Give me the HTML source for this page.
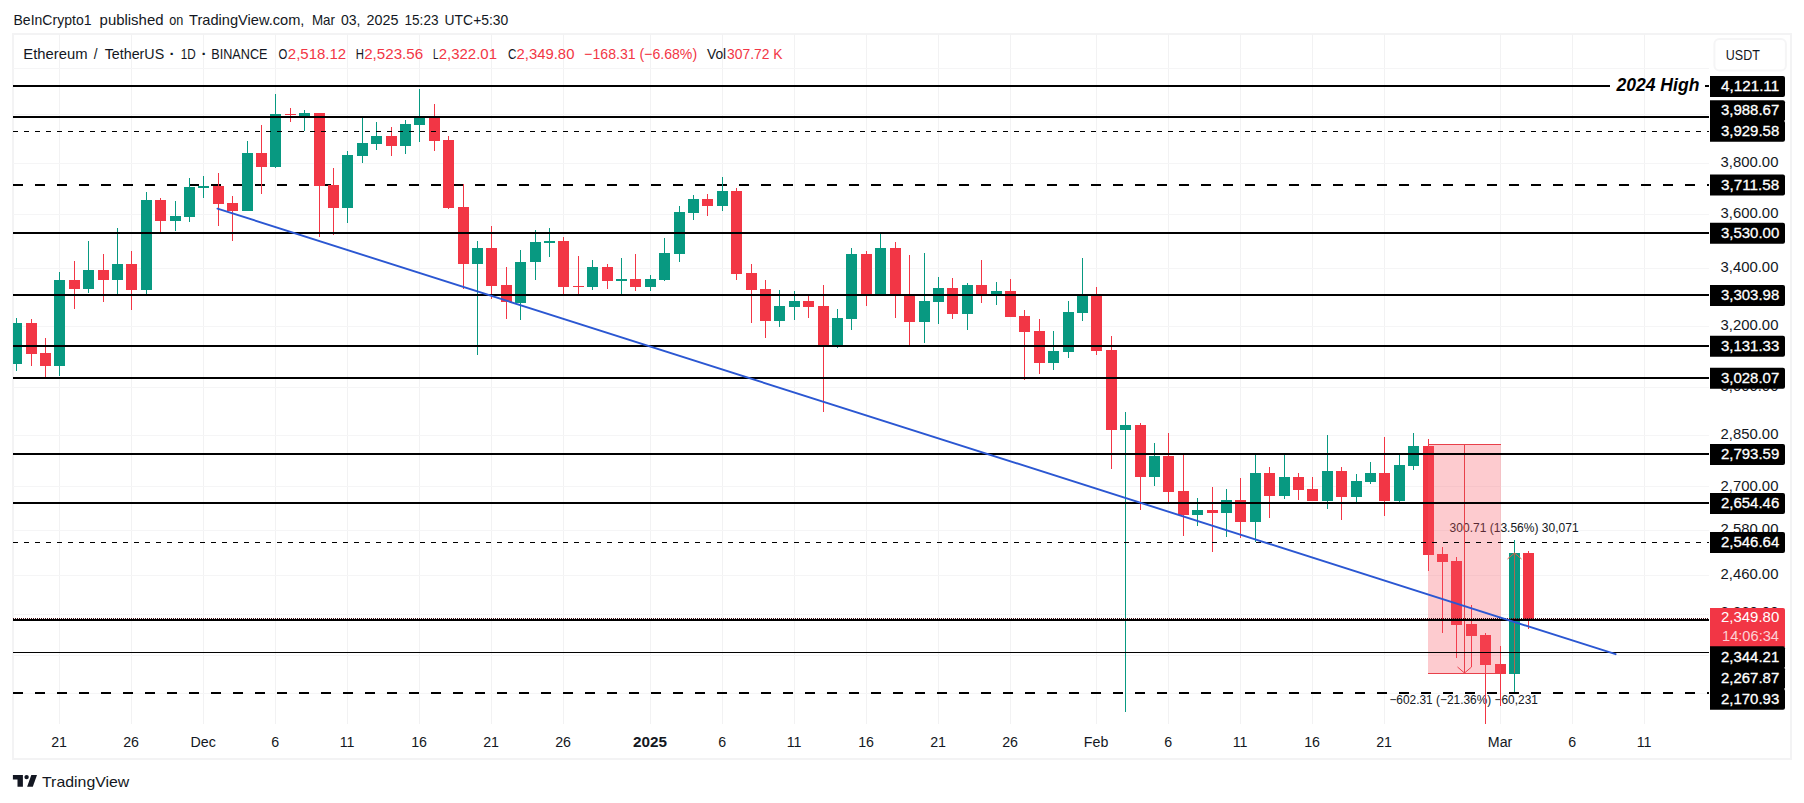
<!DOCTYPE html>
<html lang="en"><head><meta charset="utf-8"><title>ETHUSDT chart - TradingView</title>
<style>html,body{margin:0;padding:0;background:#fff;}body{width:1804px;height:803px;overflow:hidden;font-family:"Liberation Sans", "DejaVu Sans", sans-serif;}svg{display:block}text{font-family:"Liberation Sans", "DejaVu Sans", sans-serif;}</style>
</head><body>
<svg width="1804" height="803" viewBox="0 0 1804 803">
<rect x="0" y="0" width="1804" height="803" fill="#ffffff"/>
<rect x="13" y="34" width="1778" height="725" fill="none" stroke="#f3f3f4" stroke-width="2" shape-rendering="crispEdges"/>
<g shape-rendering="crispEdges" fill="#f2f2f3">
<rect x="59" y="34" width="1" height="690"/>
<rect x="131" y="34" width="1" height="690"/>
<rect x="203" y="34" width="1" height="690"/>
<rect x="275" y="34" width="1" height="690"/>
<rect x="347" y="34" width="1" height="690"/>
<rect x="419" y="34" width="1" height="690"/>
<rect x="491" y="34" width="1" height="690"/>
<rect x="563" y="34" width="1" height="690"/>
<rect x="650" y="34" width="1" height="690"/>
<rect x="722" y="34" width="1" height="690"/>
<rect x="794" y="34" width="1" height="690"/>
<rect x="866" y="34" width="1" height="690"/>
<rect x="938" y="34" width="1" height="690"/>
<rect x="1010" y="34" width="1" height="690"/>
<rect x="1096" y="34" width="1" height="690"/>
<rect x="1168" y="34" width="1" height="690"/>
<rect x="1240" y="34" width="1" height="690"/>
<rect x="1312" y="34" width="1" height="690"/>
<rect x="1384" y="34" width="1" height="690"/>
<rect x="1500" y="34" width="1" height="690"/>
<rect x="1572" y="34" width="1" height="690"/>
<rect x="1644" y="34" width="1" height="690"/>
<rect x="13" y="68" width="1696" height="1" fill="#f5f5f6"/>
<rect x="13" y="114" width="1696" height="1" fill="#f5f5f6"/>
<rect x="13" y="163" width="1696" height="1" fill="#f5f5f6"/>
<rect x="13" y="214" width="1696" height="1" fill="#f5f5f6"/>
<rect x="13" y="268" width="1696" height="1" fill="#f5f5f6"/>
<rect x="13" y="326" width="1696" height="1" fill="#f5f5f6"/>
<rect x="13" y="387" width="1696" height="1" fill="#f5f5f6"/>
<rect x="13" y="435" width="1696" height="1" fill="#f5f5f6"/>
<rect x="13" y="486" width="1696" height="1" fill="#f5f5f6"/>
<rect x="13" y="530" width="1696" height="1" fill="#f5f5f6"/>
<rect x="13" y="575" width="1696" height="1" fill="#f5f5f6"/>
<rect x="13" y="614" width="1696" height="1" fill="#f5f5f6"/>
<rect x="13" y="655" width="1696" height="1" fill="#f5f5f6"/>
<rect x="13" y="693" width="1696" height="1" fill="#f5f5f6"/>
</g>
<line x1="13" y1="185" x2="1709" y2="185" stroke="#000" stroke-width="2" stroke-dasharray="10 12" shape-rendering="crispEdges"/>
<text x="1449.6" y="532" font-size="12.4" fill="#131722" textLength="129" lengthAdjust="spacingAndGlyphs">300.71 (13.56%) 30,071</text>
<text x="1389.4" y="704" font-size="12.4" fill="#131722" textLength="148.5" lengthAdjust="spacingAndGlyphs">−602.31 (−21.36%) −60,231</text>
<g shape-rendering="crispEdges">
<rect x="16" y="318" width="1" height="53" fill="#089981"/>
<rect x="13" y="323" width="9" height="41" fill="#089981"/>
<rect x="31" y="319" width="1" height="47" fill="#F23645"/>
<rect x="26" y="323" width="11" height="31" fill="#F23645"/>
<rect x="45" y="338" width="1" height="39" fill="#F23645"/>
<rect x="40" y="353" width="11" height="13" fill="#F23645"/>
<rect x="59" y="272" width="1" height="104" fill="#089981"/>
<rect x="54" y="280" width="11" height="86" fill="#089981"/>
<rect x="74" y="261" width="1" height="48" fill="#F23645"/>
<rect x="69" y="280" width="11" height="9" fill="#F23645"/>
<rect x="88" y="241" width="1" height="52" fill="#089981"/>
<rect x="83" y="270" width="11" height="19" fill="#089981"/>
<rect x="103" y="254" width="1" height="48" fill="#F23645"/>
<rect x="98" y="270" width="11" height="10" fill="#F23645"/>
<rect x="117" y="228" width="1" height="66" fill="#089981"/>
<rect x="112" y="264" width="11" height="16" fill="#089981"/>
<rect x="131" y="251" width="1" height="59" fill="#F23645"/>
<rect x="126" y="264" width="11" height="26" fill="#F23645"/>
<rect x="146" y="192" width="1" height="102" fill="#089981"/>
<rect x="141" y="200" width="11" height="90" fill="#089981"/>
<rect x="160" y="198" width="1" height="34" fill="#F23645"/>
<rect x="155" y="200" width="11" height="21" fill="#F23645"/>
<rect x="175" y="201" width="1" height="30" fill="#089981"/>
<rect x="170" y="216" width="11" height="5" fill="#089981"/>
<rect x="189" y="178" width="1" height="44" fill="#089981"/>
<rect x="184" y="187" width="11" height="30" fill="#089981"/>
<rect x="203" y="176" width="1" height="22" fill="#089981"/>
<rect x="198" y="186" width="11" height="2" fill="#089981"/>
<rect x="218" y="173" width="1" height="53" fill="#F23645"/>
<rect x="213" y="186" width="11" height="18" fill="#F23645"/>
<rect x="232" y="196" width="1" height="45" fill="#F23645"/>
<rect x="227" y="203" width="11" height="8" fill="#F23645"/>
<rect x="247" y="141" width="1" height="70" fill="#089981"/>
<rect x="242" y="153" width="11" height="58" fill="#089981"/>
<rect x="261" y="125" width="1" height="69" fill="#F23645"/>
<rect x="256" y="153" width="11" height="14" fill="#F23645"/>
<rect x="275" y="94" width="1" height="74" fill="#089981"/>
<rect x="270" y="114" width="11" height="53" fill="#089981"/>
<rect x="290" y="108" width="1" height="14" fill="#F23645"/>
<rect x="285" y="114" width="11" height="1" fill="#F23645"/>
<rect x="304" y="110" width="1" height="21" fill="#089981"/>
<rect x="299" y="113" width="11" height="3" fill="#089981"/>
<rect x="319" y="113" width="1" height="124" fill="#F23645"/>
<rect x="314" y="113" width="11" height="73" fill="#F23645"/>
<rect x="333" y="168" width="1" height="67" fill="#F23645"/>
<rect x="328" y="185" width="11" height="23" fill="#F23645"/>
<rect x="347" y="151" width="1" height="72" fill="#089981"/>
<rect x="342" y="155" width="11" height="53" fill="#089981"/>
<rect x="362" y="118" width="1" height="45" fill="#089981"/>
<rect x="357" y="143" width="11" height="13" fill="#089981"/>
<rect x="376" y="122" width="1" height="28" fill="#089981"/>
<rect x="371" y="136" width="11" height="8" fill="#089981"/>
<rect x="391" y="127" width="1" height="29" fill="#F23645"/>
<rect x="386" y="136" width="11" height="10" fill="#F23645"/>
<rect x="405" y="120" width="1" height="34" fill="#089981"/>
<rect x="400" y="124" width="11" height="22" fill="#089981"/>
<rect x="419" y="89" width="1" height="53" fill="#089981"/>
<rect x="414" y="117" width="11" height="8" fill="#089981"/>
<rect x="434" y="104" width="1" height="47" fill="#F23645"/>
<rect x="429" y="117" width="11" height="24" fill="#F23645"/>
<rect x="448" y="136" width="1" height="73" fill="#F23645"/>
<rect x="443" y="140" width="11" height="68" fill="#F23645"/>
<rect x="463" y="184" width="1" height="105" fill="#F23645"/>
<rect x="458" y="207" width="11" height="57" fill="#F23645"/>
<rect x="477" y="241" width="1" height="114" fill="#089981"/>
<rect x="472" y="248" width="11" height="16" fill="#089981"/>
<rect x="491" y="226" width="1" height="73" fill="#F23645"/>
<rect x="486" y="248" width="11" height="38" fill="#F23645"/>
<rect x="506" y="267" width="1" height="52" fill="#F23645"/>
<rect x="501" y="285" width="11" height="17" fill="#F23645"/>
<rect x="520" y="250" width="1" height="70" fill="#089981"/>
<rect x="515" y="262" width="11" height="41" fill="#089981"/>
<rect x="535" y="230" width="1" height="50" fill="#089981"/>
<rect x="530" y="242" width="11" height="20" fill="#089981"/>
<rect x="549" y="228" width="1" height="29" fill="#089981"/>
<rect x="544" y="241" width="11" height="2" fill="#089981"/>
<rect x="563" y="237" width="1" height="57" fill="#F23645"/>
<rect x="558" y="241" width="11" height="46" fill="#F23645"/>
<rect x="578" y="256" width="1" height="38" fill="#F23645"/>
<rect x="573" y="286" width="11" height="1" fill="#F23645"/>
<rect x="592" y="260" width="1" height="30" fill="#089981"/>
<rect x="587" y="267" width="11" height="20" fill="#089981"/>
<rect x="607" y="264" width="1" height="25" fill="#F23645"/>
<rect x="602" y="267" width="11" height="14" fill="#F23645"/>
<rect x="621" y="258" width="1" height="36" fill="#089981"/>
<rect x="616" y="279" width="11" height="2" fill="#089981"/>
<rect x="635" y="254" width="1" height="37" fill="#F23645"/>
<rect x="630" y="279" width="11" height="8" fill="#F23645"/>
<rect x="650" y="275" width="1" height="16" fill="#089981"/>
<rect x="645" y="279" width="11" height="8" fill="#089981"/>
<rect x="664" y="238" width="1" height="43" fill="#089981"/>
<rect x="659" y="253" width="11" height="27" fill="#089981"/>
<rect x="679" y="206" width="1" height="56" fill="#089981"/>
<rect x="674" y="212" width="11" height="42" fill="#089981"/>
<rect x="693" y="195" width="1" height="25" fill="#089981"/>
<rect x="688" y="199" width="11" height="14" fill="#089981"/>
<rect x="707" y="194" width="1" height="22" fill="#F23645"/>
<rect x="702" y="199" width="11" height="7" fill="#F23645"/>
<rect x="722" y="177" width="1" height="34" fill="#089981"/>
<rect x="717" y="191" width="11" height="15" fill="#089981"/>
<rect x="736" y="188" width="1" height="92" fill="#F23645"/>
<rect x="731" y="191" width="11" height="83" fill="#F23645"/>
<rect x="751" y="264" width="1" height="59" fill="#F23645"/>
<rect x="746" y="273" width="11" height="17" fill="#F23645"/>
<rect x="765" y="280" width="1" height="58" fill="#F23645"/>
<rect x="760" y="289" width="11" height="32" fill="#F23645"/>
<rect x="779" y="290" width="1" height="37" fill="#089981"/>
<rect x="774" y="306" width="11" height="15" fill="#089981"/>
<rect x="794" y="291" width="1" height="29" fill="#089981"/>
<rect x="789" y="301" width="11" height="6" fill="#089981"/>
<rect x="808" y="296" width="1" height="22" fill="#F23645"/>
<rect x="803" y="301" width="11" height="6" fill="#F23645"/>
<rect x="823" y="285" width="1" height="127" fill="#F23645"/>
<rect x="818" y="306" width="11" height="39" fill="#F23645"/>
<rect x="837" y="309" width="1" height="39" fill="#089981"/>
<rect x="832" y="318" width="11" height="28" fill="#089981"/>
<rect x="851" y="248" width="1" height="82" fill="#089981"/>
<rect x="846" y="254" width="11" height="65" fill="#089981"/>
<rect x="866" y="251" width="1" height="55" fill="#F23645"/>
<rect x="861" y="254" width="11" height="40" fill="#F23645"/>
<rect x="880" y="234" width="1" height="60" fill="#089981"/>
<rect x="875" y="248" width="11" height="46" fill="#089981"/>
<rect x="895" y="242" width="1" height="76" fill="#F23645"/>
<rect x="890" y="248" width="11" height="46" fill="#F23645"/>
<rect x="909" y="255" width="1" height="90" fill="#F23645"/>
<rect x="904" y="295" width="11" height="27" fill="#F23645"/>
<rect x="924" y="253" width="1" height="90" fill="#089981"/>
<rect x="919" y="301" width="11" height="21" fill="#089981"/>
<rect x="938" y="277" width="1" height="47" fill="#089981"/>
<rect x="933" y="288" width="11" height="14" fill="#089981"/>
<rect x="952" y="278" width="1" height="41" fill="#F23645"/>
<rect x="947" y="288" width="11" height="26" fill="#F23645"/>
<rect x="967" y="283" width="1" height="47" fill="#089981"/>
<rect x="962" y="285" width="11" height="29" fill="#089981"/>
<rect x="981" y="260" width="1" height="43" fill="#F23645"/>
<rect x="976" y="285" width="11" height="9" fill="#F23645"/>
<rect x="996" y="282" width="1" height="23" fill="#089981"/>
<rect x="991" y="291" width="11" height="3" fill="#089981"/>
<rect x="1010" y="279" width="1" height="38" fill="#F23645"/>
<rect x="1005" y="291" width="11" height="26" fill="#F23645"/>
<rect x="1024" y="310" width="1" height="70" fill="#F23645"/>
<rect x="1019" y="316" width="11" height="16" fill="#F23645"/>
<rect x="1039" y="319" width="1" height="55" fill="#F23645"/>
<rect x="1034" y="331" width="11" height="32" fill="#F23645"/>
<rect x="1053" y="331" width="1" height="39" fill="#089981"/>
<rect x="1048" y="351" width="11" height="12" fill="#089981"/>
<rect x="1068" y="301" width="1" height="57" fill="#089981"/>
<rect x="1063" y="312" width="11" height="40" fill="#089981"/>
<rect x="1082" y="258" width="1" height="63" fill="#089981"/>
<rect x="1077" y="296" width="11" height="17" fill="#089981"/>
<rect x="1096" y="287" width="1" height="68" fill="#F23645"/>
<rect x="1091" y="296" width="11" height="55" fill="#F23645"/>
<rect x="1111" y="336" width="1" height="133" fill="#F23645"/>
<rect x="1106" y="350" width="11" height="80" fill="#F23645"/>
<rect x="1125" y="412" width="1" height="300" fill="#089981"/>
<rect x="1120" y="425" width="11" height="5" fill="#089981"/>
<rect x="1140" y="423" width="1" height="87" fill="#F23645"/>
<rect x="1135" y="425" width="11" height="52" fill="#F23645"/>
<rect x="1154" y="443" width="1" height="43" fill="#089981"/>
<rect x="1149" y="456" width="11" height="21" fill="#089981"/>
<rect x="1168" y="433" width="1" height="69" fill="#F23645"/>
<rect x="1163" y="456" width="11" height="36" fill="#F23645"/>
<rect x="1183" y="455" width="1" height="81" fill="#F23645"/>
<rect x="1178" y="491" width="11" height="24" fill="#F23645"/>
<rect x="1197" y="498" width="1" height="28" fill="#089981"/>
<rect x="1192" y="510" width="11" height="5" fill="#089981"/>
<rect x="1212" y="487" width="1" height="65" fill="#F23645"/>
<rect x="1207" y="510" width="11" height="3" fill="#F23645"/>
<rect x="1226" y="489" width="1" height="48" fill="#089981"/>
<rect x="1221" y="500" width="11" height="13" fill="#089981"/>
<rect x="1240" y="478" width="1" height="60" fill="#F23645"/>
<rect x="1235" y="500" width="11" height="22" fill="#F23645"/>
<rect x="1255" y="455" width="1" height="87" fill="#089981"/>
<rect x="1250" y="473" width="11" height="49" fill="#089981"/>
<rect x="1269" y="467" width="1" height="51" fill="#F23645"/>
<rect x="1264" y="473" width="11" height="23" fill="#F23645"/>
<rect x="1284" y="455" width="1" height="44" fill="#089981"/>
<rect x="1279" y="477" width="11" height="19" fill="#089981"/>
<rect x="1298" y="473" width="1" height="27" fill="#F23645"/>
<rect x="1293" y="477" width="11" height="13" fill="#F23645"/>
<rect x="1312" y="477" width="1" height="24" fill="#F23645"/>
<rect x="1307" y="489" width="11" height="12" fill="#F23645"/>
<rect x="1327" y="435" width="1" height="74" fill="#089981"/>
<rect x="1322" y="471" width="11" height="30" fill="#089981"/>
<rect x="1341" y="467" width="1" height="53" fill="#F23645"/>
<rect x="1336" y="471" width="11" height="26" fill="#F23645"/>
<rect x="1356" y="474" width="1" height="28" fill="#089981"/>
<rect x="1351" y="481" width="11" height="16" fill="#089981"/>
<rect x="1370" y="462" width="1" height="22" fill="#089981"/>
<rect x="1365" y="473" width="11" height="9" fill="#089981"/>
<rect x="1384" y="437" width="1" height="79" fill="#F23645"/>
<rect x="1379" y="473" width="11" height="28" fill="#F23645"/>
<rect x="1399" y="455" width="1" height="47" fill="#089981"/>
<rect x="1394" y="465" width="11" height="36" fill="#089981"/>
<rect x="1413" y="433" width="1" height="37" fill="#089981"/>
<rect x="1408" y="446" width="11" height="20" fill="#089981"/>
<rect x="1428" y="439" width="1" height="132" fill="#F23645"/>
<rect x="1423" y="446" width="11" height="109" fill="#F23645"/>
<rect x="1442" y="547" width="1" height="86" fill="#F23645"/>
<rect x="1437" y="554" width="11" height="8" fill="#F23645"/>
<rect x="1456" y="557" width="1" height="101" fill="#F23645"/>
<rect x="1451" y="561" width="11" height="64" fill="#F23645"/>
<rect x="1471" y="605" width="1" height="62" fill="#F23645"/>
<rect x="1466" y="624" width="11" height="12" fill="#F23645"/>
<rect x="1485" y="633" width="1" height="91" fill="#F23645"/>
<rect x="1480" y="635" width="11" height="30" fill="#F23645"/>
<rect x="1500" y="646" width="1" height="60" fill="#F23645"/>
<rect x="1495" y="664" width="11" height="10" fill="#F23645"/>
<rect x="1514" y="540" width="1" height="152" fill="#089981"/>
<rect x="1509" y="553" width="11" height="121" fill="#089981"/>
<rect x="1528" y="551" width="1" height="78" fill="#F23645"/>
<rect x="1523" y="553" width="11" height="66" fill="#F23645"/>
</g>
<g shape-rendering="crispEdges">
<rect x="1428" y="444" width="73" height="229" fill="#f7525f" fill-opacity="0.3"/>
<rect x="1428" y="444" width="73" height="1" fill="#e8404a"/>
<rect x="1428" y="673" width="73" height="1" fill="#e8404a"/>
<rect x="1464" y="444" width="1" height="229" fill="#e8404a"/>
<rect x="1514" y="553" width="1" height="120" fill="#c8604a" fill-opacity="0.85"/>
</g>
<path d="M1457.5 667 L1464.5 673 L1471.5 667" fill="none" stroke="#e8404a" stroke-width="1"/>
<path d="M1507.5 559 L1514.5 553 L1521.5 559" fill="none" stroke="#d8604a" stroke-width="1"/>
<g shape-rendering="crispEdges" fill="#000">
<rect x="13" y="85" width="1597" height="2"/>
<rect x="1705" y="85" width="4" height="2"/>
<rect x="13" y="116" width="1696" height="2"/>
<rect x="13" y="232" width="1696" height="2"/>
<rect x="13" y="294" width="1696" height="2"/>
<rect x="13" y="345" width="1696" height="2"/>
<rect x="13" y="377" width="1696" height="2"/>
<rect x="13" y="453" width="1696" height="2"/>
<rect x="13" y="502" width="1696" height="2"/>
<rect x="13" y="619" width="1696" height="2"/>
<rect x="13" y="652" width="1696" height="1"/>
</g>
<g shape-rendering="crispEdges" stroke="#000" fill="none">
<line x1="13" y1="131.5" x2="1709" y2="131.5" stroke-width="1" stroke-dasharray="5 6"/>
<line x1="13" y1="542.5" x2="1709" y2="542.5" stroke-width="1" stroke-dasharray="5 6"/>
<line x1="13" y1="693" x2="1709" y2="693" stroke-width="2" stroke-dasharray="10 12"/>
<line x1="13" y1="618.5" x2="1709" y2="618.5" stroke-width="1" stroke="#3a0a10" stroke-dasharray="1 1"/>
</g>
<line x1="217.5" y1="208.6" x2="1615.6" y2="654.2" stroke="#2b57d2" stroke-width="1.9" stroke-linecap="round"/>
<text x="1616.4" y="91" font-size="17.5" fill="#000" font-weight="bold" font-style="italic" textLength="83" lengthAdjust="spacingAndGlyphs">2024 High</text>
<text x="13.5" y="24.6" font-size="14.8" fill="#131722" textLength="78.0" lengthAdjust="spacingAndGlyphs">BeInCrypto1</text>
<text x="99.6" y="24.6" font-size="14.8" fill="#131722" textLength="63.9" lengthAdjust="spacingAndGlyphs">published</text>
<text x="169.2" y="24.6" font-size="14.8" fill="#131722" textLength="14.1" lengthAdjust="spacingAndGlyphs">on</text>
<text x="189" y="24.6" font-size="14.8" fill="#131722" textLength="115.4" lengthAdjust="spacingAndGlyphs">TradingView.com,</text>
<text x="312" y="24.6" font-size="14.8" fill="#131722" textLength="23" lengthAdjust="spacingAndGlyphs">Mar</text>
<text x="341" y="24.6" font-size="14.8" fill="#131722" textLength="19.5" lengthAdjust="spacingAndGlyphs">03,</text>
<text x="366.6" y="24.6" font-size="14.8" fill="#131722" textLength="31.9" lengthAdjust="spacingAndGlyphs">2025</text>
<text x="404.5" y="24.6" font-size="14.8" fill="#131722" textLength="34.0" lengthAdjust="spacingAndGlyphs">15:23</text>
<text x="444.6" y="24.6" font-size="14.8" fill="#131722" textLength="63.7" lengthAdjust="spacingAndGlyphs">UTC+5:30</text>
<text x="23.3" y="59.1" font-size="14.8" fill="#131722" textLength="64.2" lengthAdjust="spacingAndGlyphs">Ethereum</text>
<text x="93.7" y="59.1" font-size="14.8" fill="#131722" textLength="3.8" lengthAdjust="spacingAndGlyphs">/</text>
<text x="104.7" y="59.1" font-size="14.8" fill="#131722" textLength="59.5" lengthAdjust="spacingAndGlyphs">TetherUS</text>
<text x="172.1" y="59.4" font-size="15.5" fill="#131722" text-anchor="middle" font-weight="bold">·</text>
<text x="180.8" y="59.1" font-size="14.8" fill="#131722" textLength="15.0" lengthAdjust="spacingAndGlyphs">1D</text>
<text x="204.1" y="59.4" font-size="15.5" fill="#131722" text-anchor="middle" font-weight="bold">·</text>
<text x="211.3" y="59.1" font-size="14.8" fill="#131722" textLength="56.2" lengthAdjust="spacingAndGlyphs">BINANCE</text>
<text x="278.6" y="59.1" font-size="14.8" fill="#131722" textLength="8.8" lengthAdjust="spacingAndGlyphs">O</text>
<text x="287.8" y="59.1" font-size="14.8" fill="#F23645" textLength="58.4" lengthAdjust="spacingAndGlyphs">2,518.12</text>
<text x="355.8" y="59.1" font-size="14.8" fill="#131722" textLength="8.2" lengthAdjust="spacingAndGlyphs">H</text>
<text x="364.2" y="59.1" font-size="14.8" fill="#F23645" textLength="59.0" lengthAdjust="spacingAndGlyphs">2,523.56</text>
<text x="433" y="59.1" font-size="14.8" fill="#131722" textLength="5.5" lengthAdjust="spacingAndGlyphs">L</text>
<text x="438.7" y="59.1" font-size="14.8" fill="#F23645" textLength="58.3" lengthAdjust="spacingAndGlyphs">2,322.01</text>
<text x="507.9" y="59.1" font-size="14.8" fill="#131722" textLength="8.4" lengthAdjust="spacingAndGlyphs">C</text>
<text x="516.6" y="59.1" font-size="14.8" fill="#F23645" textLength="57.8" lengthAdjust="spacingAndGlyphs">2,349.80</text>
<text x="584.3" y="59.1" font-size="14.8" fill="#F23645" textLength="112.8" lengthAdjust="spacingAndGlyphs">−168.31 (−6.68%)</text>
<text x="707" y="59.1" font-size="14.8" fill="#131722" textLength="19.2" lengthAdjust="spacingAndGlyphs">Vol</text>
<text x="727" y="59.1" font-size="14.8" fill="#F23645" textLength="55.5" lengthAdjust="spacingAndGlyphs">307.72 K</text>
<rect x="1714.4" y="39.1" width="71.5" height="31.3" rx="5" ry="5" fill="#fff" stroke="#f5f5f6" stroke-width="2"/>
<text x="1725.8" y="59.9" font-size="15.4" fill="#131722" textLength="34" lengthAdjust="spacingAndGlyphs">USDT</text>
<text x="1720.6" y="166.8" font-size="15.2" fill="#131722" textLength="57.8" lengthAdjust="spacingAndGlyphs">3,800.00</text>
<text x="1720.6" y="218.0" font-size="15.2" fill="#131722" textLength="57.8" lengthAdjust="spacingAndGlyphs">3,600.00</text>
<text x="1720.6" y="272.2" font-size="15.2" fill="#131722" textLength="57.8" lengthAdjust="spacingAndGlyphs">3,400.00</text>
<text x="1720.6" y="329.6" font-size="15.2" fill="#131722" textLength="57.8" lengthAdjust="spacingAndGlyphs">3,200.00</text>
<text x="1720.6" y="390.7" font-size="15.2" fill="#131722" textLength="57.8" lengthAdjust="spacingAndGlyphs">3,000.00</text>
<text x="1720.6" y="439.3" font-size="15.2" fill="#131722" textLength="57.8" lengthAdjust="spacingAndGlyphs">2,850.00</text>
<text x="1720.6" y="490.5" font-size="15.2" fill="#131722" textLength="57.8" lengthAdjust="spacingAndGlyphs">2,700.00</text>
<text x="1720.6" y="533.5" font-size="15.2" fill="#131722" textLength="57.8" lengthAdjust="spacingAndGlyphs">2,580.00</text>
<text x="1720.6" y="578.6" font-size="15.2" fill="#131722" textLength="57.8" lengthAdjust="spacingAndGlyphs">2,460.00</text>
<text x="1720.6" y="617.0" font-size="15.2" fill="#131722" textLength="57.8" lengthAdjust="spacingAndGlyphs">2,360.00</text>
<path d="M1710 75.9 H1783 Q1785 75.9 1785 77.9 V94.9 Q1785 96.9 1783 96.9 H1710 Z" fill="#000"/>
<text x="1721" y="90.9" font-size="15.2" fill="#fff" textLength="58.2" lengthAdjust="spacingAndGlyphs" stroke="#fff" stroke-width="0.3">4,121.11</text>
<path d="M1710 100.2 H1783 Q1785 100.2 1785 102.2 V119.2 Q1785 121.2 1783 121.2 H1710 Z" fill="#000"/>
<text x="1721" y="115.2" font-size="15.2" fill="#fff" textLength="58.2" lengthAdjust="spacingAndGlyphs" stroke="#fff" stroke-width="0.3">3,988.67</text>
<path d="M1710 120.7 H1783 Q1785 120.7 1785 122.7 V139.7 Q1785 141.7 1783 141.7 H1710 Z" fill="#000"/>
<text x="1721" y="135.7" font-size="15.2" fill="#fff" textLength="58.2" lengthAdjust="spacingAndGlyphs" stroke="#fff" stroke-width="0.3">3,929.58</text>
<path d="M1710 174.5 H1783 Q1785 174.5 1785 176.5 V193.5 Q1785 195.5 1783 195.5 H1710 Z" fill="#000"/>
<text x="1721" y="189.5" font-size="15.2" fill="#fff" textLength="58.2" lengthAdjust="spacingAndGlyphs" stroke="#fff" stroke-width="0.3">3,711.58</text>
<path d="M1710 222.7 H1783 Q1785 222.7 1785 224.7 V241.7 Q1785 243.7 1783 243.7 H1710 Z" fill="#000"/>
<text x="1721" y="237.7" font-size="15.2" fill="#fff" textLength="58.2" lengthAdjust="spacingAndGlyphs" stroke="#fff" stroke-width="0.3">3,530.00</text>
<path d="M1710 285.0 H1783 Q1785 285.0 1785 287.0 V304.0 Q1785 306.0 1783 306.0 H1710 Z" fill="#000"/>
<text x="1721" y="300.0" font-size="15.2" fill="#fff" textLength="58.2" lengthAdjust="spacingAndGlyphs" stroke="#fff" stroke-width="0.3">3,303.98</text>
<path d="M1710 335.8 H1783 Q1785 335.8 1785 337.8 V354.8 Q1785 356.8 1783 356.8 H1710 Z" fill="#000"/>
<text x="1721" y="350.8" font-size="15.2" fill="#fff" textLength="58.2" lengthAdjust="spacingAndGlyphs" stroke="#fff" stroke-width="0.3">3,131.33</text>
<path d="M1710 367.8 H1783 Q1785 367.8 1785 369.8 V386.8 Q1785 388.8 1783 388.8 H1710 Z" fill="#000"/>
<text x="1721" y="382.8" font-size="15.2" fill="#fff" textLength="58.2" lengthAdjust="spacingAndGlyphs" stroke="#fff" stroke-width="0.3">3,028.07</text>
<path d="M1710 443.9 H1783 Q1785 443.9 1785 445.9 V462.9 Q1785 464.9 1783 464.9 H1710 Z" fill="#000"/>
<text x="1721" y="458.9" font-size="15.2" fill="#fff" textLength="58.2" lengthAdjust="spacingAndGlyphs" stroke="#fff" stroke-width="0.3">2,793.59</text>
<path d="M1710 493.1 H1783 Q1785 493.1 1785 495.1 V512.1 Q1785 514.1 1783 514.1 H1710 Z" fill="#000"/>
<text x="1721" y="508.1" font-size="15.2" fill="#fff" textLength="58.2" lengthAdjust="spacingAndGlyphs" stroke="#fff" stroke-width="0.3">2,654.46</text>
<path d="M1710 532.0 H1783 Q1785 532.0 1785 534.0 V551.0 Q1785 553.0 1783 553.0 H1710 Z" fill="#000"/>
<text x="1721" y="547.0" font-size="15.2" fill="#fff" textLength="58.2" lengthAdjust="spacingAndGlyphs" stroke="#fff" stroke-width="0.3">2,546.64</text>
<path d="M1710 608 H1783 Q1785 608 1785 610 V647 H1710 Z" fill="#F23645"/>
<text x="1721" y="622.3" font-size="15.2" fill="#fff" textLength="58.2" lengthAdjust="spacingAndGlyphs">2,349.80</text>
<text x="1722" y="641" font-size="15.2" fill="#ffffff" textLength="57" lengthAdjust="spacingAndGlyphs" fill-opacity="0.78">14:06:34</text>
<path d="M1710 646.2 H1783 Q1785 646.2 1785 648.2 V666.2 Q1785 668.2 1783 668.2 H1710 Z" fill="#000"/>
<text x="1721" y="661.7" font-size="15.2" fill="#fff" textLength="58.2" lengthAdjust="spacingAndGlyphs" stroke="#fff" stroke-width="0.3">2,344.21</text>
<path d="M1710 667.2 H1783 Q1785 667.2 1785 669.2 V687.2 Q1785 689.2 1783 689.2 H1710 Z" fill="#000"/>
<text x="1721" y="682.7" font-size="15.2" fill="#fff" textLength="58.2" lengthAdjust="spacingAndGlyphs" stroke="#fff" stroke-width="0.3">2,267.87</text>
<path d="M1710 688.7 H1783 Q1785 688.7 1785 690.7 V707.7 Q1785 709.7 1783 709.7 H1710 Z" fill="#000"/>
<text x="1721" y="703.7" font-size="15.2" fill="#fff" textLength="58.2" lengthAdjust="spacingAndGlyphs" stroke="#fff" stroke-width="0.3">2,170.93</text>
<text transform="translate(59.1 746.7) scale(0.95 1)" font-size="15" fill="#131722" text-anchor="middle">21</text>
<text transform="translate(131.1 746.7) scale(0.95 1)" font-size="15" fill="#131722" text-anchor="middle">26</text>
<text transform="translate(203.1 746.7) scale(0.95 1)" font-size="15" fill="#131722" text-anchor="middle">Dec</text>
<text transform="translate(275.1 746.7) scale(0.95 1)" font-size="15" fill="#131722" text-anchor="middle">6</text>
<text transform="translate(347.1 746.7) scale(0.95 1)" font-size="15" fill="#131722" text-anchor="middle">11</text>
<text transform="translate(419.1 746.7) scale(0.95 1)" font-size="15" fill="#131722" text-anchor="middle">16</text>
<text transform="translate(491.1 746.7) scale(0.95 1)" font-size="15" fill="#131722" text-anchor="middle">21</text>
<text transform="translate(563.1 746.7) scale(0.95 1)" font-size="15" fill="#131722" text-anchor="middle">26</text>
<text x="633.1" y="746.7" font-size="15" fill="#131722" font-weight="bold" textLength="34" lengthAdjust="spacingAndGlyphs">2025</text>
<text transform="translate(722.1 746.7) scale(0.95 1)" font-size="15" fill="#131722" text-anchor="middle">6</text>
<text transform="translate(794.1 746.7) scale(0.95 1)" font-size="15" fill="#131722" text-anchor="middle">11</text>
<text transform="translate(866.1 746.7) scale(0.95 1)" font-size="15" fill="#131722" text-anchor="middle">16</text>
<text transform="translate(938.1 746.7) scale(0.95 1)" font-size="15" fill="#131722" text-anchor="middle">21</text>
<text transform="translate(1010.1 746.7) scale(0.95 1)" font-size="15" fill="#131722" text-anchor="middle">26</text>
<text transform="translate(1096.1 746.7) scale(0.95 1)" font-size="15" fill="#131722" text-anchor="middle">Feb</text>
<text transform="translate(1168.1 746.7) scale(0.95 1)" font-size="15" fill="#131722" text-anchor="middle">6</text>
<text transform="translate(1240.1 746.7) scale(0.95 1)" font-size="15" fill="#131722" text-anchor="middle">11</text>
<text transform="translate(1312.1 746.7) scale(0.95 1)" font-size="15" fill="#131722" text-anchor="middle">16</text>
<text transform="translate(1384.1 746.7) scale(0.95 1)" font-size="15" fill="#131722" text-anchor="middle">21</text>
<text transform="translate(1500.1 746.7) scale(0.95 1)" font-size="15" fill="#131722" text-anchor="middle">Mar</text>
<text transform="translate(1572.1 746.7) scale(0.95 1)" font-size="15" fill="#131722" text-anchor="middle">6</text>
<text transform="translate(1644.1 746.7) scale(0.95 1)" font-size="15" fill="#131722" text-anchor="middle">11</text>
<g fill="#131722">
<path d="M12.9 775 H22.9 V786.8 H17.5 V779.6 H12.9 Z"/>
<circle cx="26.6" cy="777.1" r="2.2"/>
<path d="M31.3 775 H37 L32.8 786.8 H27.1 Z"/>
</g>
<text x="42" y="786.8" font-size="15" fill="#131722" textLength="87.3" lengthAdjust="spacingAndGlyphs">TradingView</text>
</svg>
</body></html>
